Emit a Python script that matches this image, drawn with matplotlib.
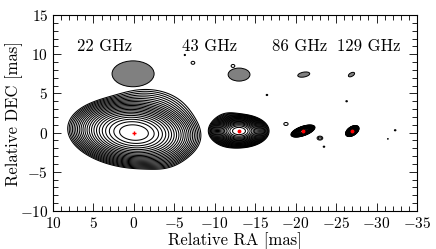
import numpy as np
import matplotlib
matplotlib.use("Agg")
import matplotlib.pyplot as plt
from matplotlib.patches import Ellipse

plt.rcParams['font.family'] = 'serif'
plt.rcParams['font.serif'] = ['cmr10']
plt.rcParams['mathtext.fontset'] = 'cm'
plt.rcParams['axes.formatter.use_mathtext'] = True

# source model components: (x, y, amp, sigma_maj, sigma_min, pa_deg)
comps_22 = [(0.0, 0.0, 1.0, 2.1, 1.15, 5),
            (-1.2, 0.9, 0.015, 2.3, 1.75, -5),
            (-3.3, -2.3, 0.004, 1.3, 1.0, 0)]
comps_43 = [(-13.0, 0.2, 1.0, 0.95, 0.55, 0),
            (-11.8, 0.4, 0.01, 0.9, 0.85, 0),
            (-6.3, 9.9, 0.0006, 0.12, 0.12, 0),
            (-7.3, 8.9, 0.00065, 0.3, 0.25, 0),
            (-12.25, 8.5, 0.00065, 0.3, 0.25, 0),
            (-16.45, 4.8, 0.0006, 0.15, 0.12, 0),
            (-18.8, 1.1, 0.00065, 0.35, 0.25, 0)]
comps_86 = [(-20.9, 0.2, 1.0, 0.4, 0.15, -20),
            (-23.0, -0.7, 0.0008, 0.35, 0.25, 0),
            (-23.5, -1.8, 0.0006, 0.15, 0.12, 0)]
comps_129 = [(-27.0, 0.2, 1.0, 0.24, 0.14, -35),
             (-26.3, 4.0, 0.0006, 0.15, 0.12, 0),
             (-32.3, 0.3, 0.0006, 0.15, 0.12, 0),
             (-31.4, -0.8, 0.00055, 0.1, 0.1, 0)]

# beams: (x, y, width, height, angle)
beams = [(0.1, 7.5, 5.2, 3.3, 0),
         (-13.0, 7.4, 2.7, 1.66, 0),
         (-21.0, 7.4, 1.5, 0.62, -11),
         (-26.9, 7.4, 0.85, 0.45, -30)]

labels = ["22 GHz", "43 GHz", "86 GHz", "129 GHz"]
label_x = [3.6, -9.3, -20.5, -29.0]
label_y = 11.0

peak_x = [0.0, -13.0, -20.9, -27.0]
peak_y = [0.0, 0.2, 0.2, 0.2]


def gauss(X, Y, x0, y0, amp, smaj, smin, pa):
    t = np.radians(pa)
    dx = X - x0
    dy = Y - y0
    u = dx * np.cos(t) + dy * np.sin(t)
    v = -dx * np.sin(t) + dy * np.cos(t)
    return amp * np.exp(-0.5 * (u**2 / smaj**2 + v**2 / smin**2))


X, Y = np.meshgrid(np.arange(-37, 12, 0.03), np.arange(-10, 15, 0.03))
levels = 2.0 ** (-np.arange(22, 0, -1) / 2)

fig = plt.figure(figsize=(4.36, 2.49), dpi=100)
ax = fig.add_axes([53/436, 1 - 211/249, 364/436, 196/249])

for comps in [comps_22, comps_43, comps_86, comps_129]:
    img = np.zeros_like(X)
    for c in comps:
        img += gauss(X, Y, *c)
    ax.contour(X, Y, img, levels=levels, colors='k', linewidths=0.75)

for bx, by, bw, bh, ba in beams:
    ax.add_patch(Ellipse((bx, by), bw, bh, angle=ba, facecolor='0.5',
                         edgecolor='k', linewidth=0.7))

for lx, lab in zip(label_x, labels):
    ax.text(lx, label_y, lab, ha='center', va='center', fontsize=12)

ax.plot(peak_x[:1], peak_y[:1], '+', color='red', markersize=3.5, mew=1)
ax.plot(peak_x[1:], peak_y[1:], 'o', color='red', markersize=2.8, mew=0)

ax.set_xlim(10, -35)
ax.set_ylim(-10, 15)
ax.set_xticks(np.arange(10, -36, -5))
ax.set_yticks(np.arange(-10, 16, 5))
ax.set_xticks(np.arange(10, -36, -1), minor=True)
ax.set_yticks(np.arange(-10, 16, 1), minor=True)
ax.tick_params(which='both', direction='in', top=True, right=True, labelsize=11)
ax.tick_params(which='major', length=6, width=0.6)
ax.tick_params(which='minor', length=3.5, width=0.6)
for sp in ax.spines.values():
    sp.set_linewidth(0.8)
ax.set_xlabel("Relative RA [mas]", fontsize=12, labelpad=1)
ax.set_ylabel("Relative DEC [mas]", fontsize=12)
ax.yaxis.set_label_coords(-0.083, 0.5)

plt.savefig("out.png", dpi=100)
